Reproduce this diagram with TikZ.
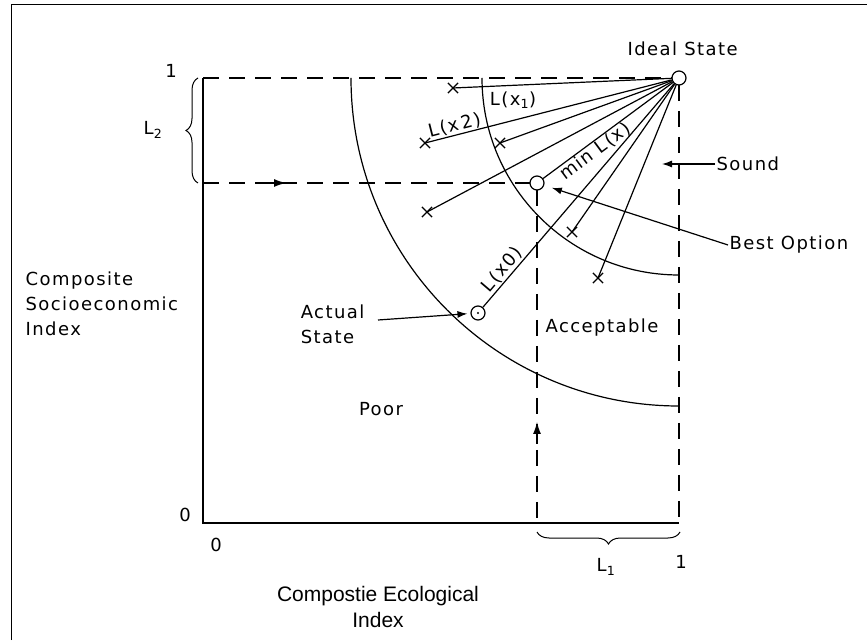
\documentclass[tikz,border=0pt]{standalone}
\usepackage{fontspec}
\setmainfont{DejaVu Sans}[LetterSpace=8]
\newfontfamily\capfont{Liberation Sans}
\usetikzlibrary{arrows.meta,shapes.misc,decorations.pathreplacing}
\begin{document}
\begin{tikzpicture}[x=1pt,y=1pt,line width=1.2pt,
  lbl/.style={font=\fontsize{18}{25}\selectfont, inner sep=1pt},
  captext/.style={font=\capfont\fontsize{21}{26}\selectfont, inner sep=1pt, align=center},
  dsh/.style={dash pattern=on 16pt off 10pt},
  pt/.style={circle, draw, fill=white, minimum size=14pt, inner sep=0pt, line width=1.2pt},
  xm/.style={cross out, draw, minimum size=9pt, inner sep=0pt, line width=1.2pt},
  tip/.style={-{Latex[length=10pt,width=7pt]}},
  midtip/.style={-{Latex[length=12pt,width=8pt]}},
  brc/.style={decorate, decoration={brace, amplitude=12pt}, line width=1pt}]
\useasboundingbox (0,0) rectangle (867,640);
% frame
\draw[line width=1pt] (11,0) -- (11,635) -- (867,635);
% key points
\coordinate (O) at (203,117);
\coordinate (Ytop) at (203,562);
\coordinate (Xend) at (679,117);
\coordinate (Yl2) at (203,457);
\coordinate (Xl1) at (537,117);
% arcs centred on ideal state
\draw (351,562) arc[start angle=180, end angle=270, radius=328];
\draw (482,562) arc[start angle=180, end angle=270, radius=197];
% dashed guides
\draw[dsh] (Ytop) -- (672,562);
\draw[dsh] (679,555) -- (Xend);
\draw[dsh] (Yl2) -- (530,457);
\draw[dsh] (537,450) -- (Xl1);
\draw (679,227) -- (679,241);
\draw (679,358) -- (679,372);
% axes
\draw (Ytop) -- (O) -- (Xend);
% points
\node[pt] (I) at (679,562) {};
\node[pt] (B) at (537,457) {};
\node[pt] (A) at (478,327) {};
\fill (A) circle (1.2pt);
\node[xm] (x1) at (453,552) {};
\node[xm] (x2) at (425,497) {};
\node[xm] (x3) at (500,497) {};
\node[xm] (x4) at (427,428) {};
\node[xm] (x5) at (572,408) {};
\node[xm] (x6) at (598,362) {};
% distance lines
\draw (I) -- (x1.center);
\draw (x2.center) -- node[lbl, pos=.13, sloped, above] (lx2) {L(x\,2)} (I);
\draw (I) -- (x3.center);
\draw (I) -- (x4.center);
\draw (B) -- node[lbl, pos=.36, sloped, below] (lmin) {min L(x)} (I);
\draw (I) -- (x5.center);
\draw (A) -- node[lbl, pos=.14, sloped, above] (lx0) {L(x0)} (I);
\draw (I) -- (x6.center);
\node[lbl] (lx1) at (513,540) {L(x\textsubscript{1})};
% labels and pointers
\node[lbl, anchor=west] (ideal) at (626,591) {Ideal State};
\node[lbl, anchor=west] (snd) at (715,476) {Sound};
\coordinate (sndtip) at (662,476);
\draw[tip] (snd.west) -- (sndtip);
\node[lbl, anchor=west] (bo) at (728,395) {Best Option};
\draw[tip, shorten >=8pt] (bo.west) -- (B);
\node[lbl, align=left, anchor=east] (as) at (366,316) {Actual\\State};
\coordinate (asa) at (378,320);
\draw[tip, shorten >=3pt] (asa) -- (A);
\node[lbl] (acc) at (602,312) {Acceptable};
\node[lbl] (poor) at (381,231) {Poor};
\node[lbl, align=left, anchor=west] (yl) at (24,336) {Composite\\Socioeconomic\\Index};
\node[captext] (xl) at (378,33) {Compostie Ecological\\Index};
% guide arrows
\coordinate (ha) at (262,457);
\coordinate (hb) at (286,457);
\draw[midtip] (ha) -- (hb);
\coordinate (va) at (537,196);
\coordinate (vb) at (537,218);
\draw[midtip] (va) -- (vb);
% braces and ticks
\draw[brc] (198,457) -- (198,562);
\node[lbl] (l2) at (153,510) {L\textsubscript{2}};
\draw[brc] (680,108) -- (537,108);
\node[lbl] (l1) at (606,73) {L\textsubscript{1}};
\node[lbl] (one1) at (171,569) {1};
\node[lbl] (one2) at (681,78) {1};
\node[lbl] (zero1) at (185,125) {0};
\node[lbl] (zero2) at (216,95) {0};
\end{tikzpicture}
\end{document}
